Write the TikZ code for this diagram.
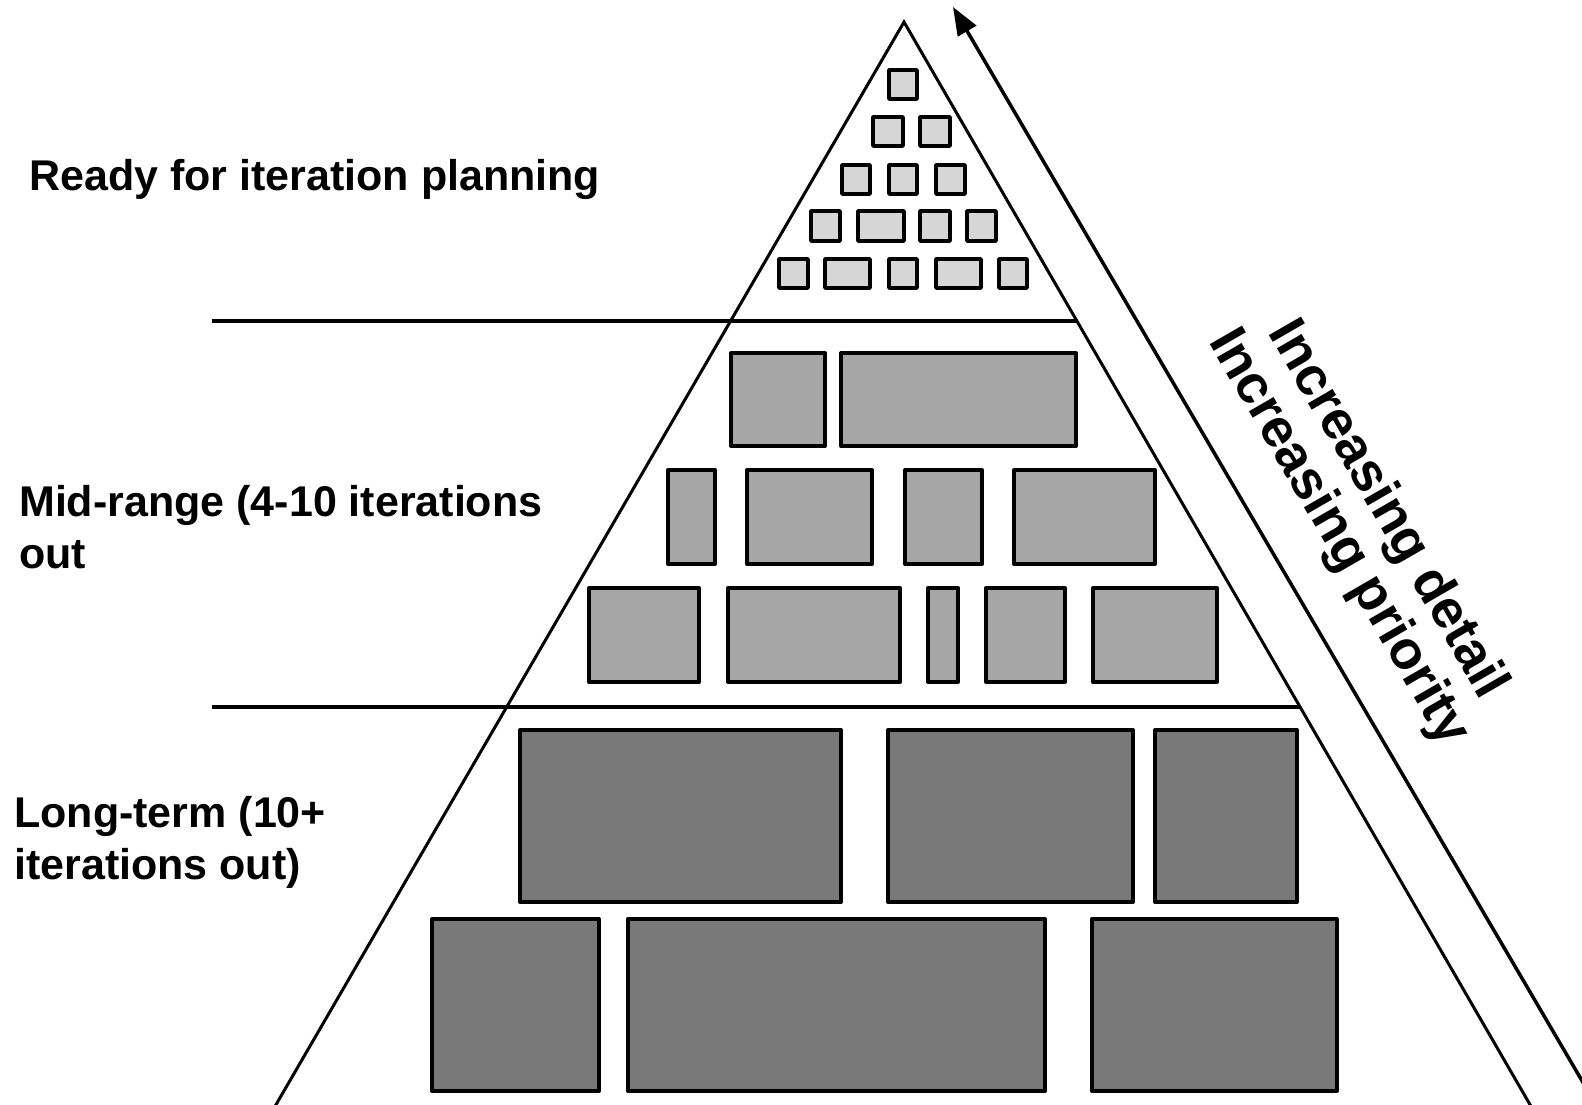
\documentclass[tikz,border=0pt]{standalone}
\usepackage{fontspec}
\setmainfont{Liberation Sans}
\usetikzlibrary{arrows.meta}

\definecolor{lightbrick}{HTML}{D6D6D6}
\definecolor{midbrick}{HTML}{A6A6A6}
\definecolor{darkbrick}{HTML}{797979}

\tikzset{
  edge/.style={line width=3pt, line cap=round},
  band/.style={line width=4pt},
  brick/.style={line width=4pt, draw=black, line join=round},
  small/.style={brick, fill=lightbrick, line width=3.6pt},
  medium/.style={brick, fill=midbrick},
  large/.style={brick, fill=darkbrick},
  % multi-line nodes: the base anchor sits on the last line
  tier/.style={inner sep=0pt, anchor=base west, align=left,
    font=\bfseries\fontsize{43}{52}\selectfont},
  trend/.style={inner sep=0pt, anchor=base, align=center, rotate=-60,
    font=\bfseries\fontsize{54}{56}\selectfont}
}

\begin{document}
\begin{tikzpicture}[x=1pt, y=-1pt]
  \useasboundingbox (0,0) rectangle (1582,1104);
  \clip (0,0) rectangle (1582,1104);

  % pyramid outline and the two tier separators
  \coordinate (apex) at (904,22);
  \coordinate (baseL) at (270,1115);
  \coordinate (baseR) at (1536,1115);
  \draw[edge] (baseL) -- (apex) -- (baseR);
  \coordinate (sep1a) at (212,321);
  \coordinate (sep1b) at (1077,321);
  \coordinate (sep2a) at (212,707);
  \coordinate (sep2b) at (1300,707);
  \draw[band] (sep1a) -- (sep1b);
  \draw[band] (sep2a) -- (sep2b);

  % arrow along the right flank
  \coordinate (arrowStart) at (1605,1120);
  \coordinate (arrowTip) at (953,7);
  \draw[line width=3.5pt, -{Triangle[length=28pt,width=21pt]}] (arrowStart) -- (arrowTip);

  % top tier: small, detailed items
  \draw[small] (889,70) rectangle (917,99);
  \draw[small] (873,117) rectangle (903,146);
  \draw[small] (920,117) rectangle (950,146);
  \draw[small] (842,165) rectangle (870,194);
  \draw[small] (889,165) rectangle (917,194);
  \draw[small] (936,165) rectangle (965,194);
  \draw[small] (811,211) rectangle (840,241);
  \draw[small] (858,211) rectangle (904,241);
  \draw[small] (920,211) rectangle (950,241);
  \draw[small] (967,211) rectangle (996,241);
  \draw[small] (779,259) rectangle (808,288);
  \draw[small] (825,259) rectangle (870,288);
  \draw[small] (889,259) rectangle (917,288);
  \draw[small] (936,259) rectangle (981,288);
  \draw[small] (999,259) rectangle (1027,288);

  % middle tier
  \draw[medium] (731,353) rectangle (825,446);
  \draw[medium] (841,353) rectangle (1076,446);
  \draw[medium] (668,470) rectangle (715,564);
  \draw[medium] (747,470) rectangle (872,564);
  \draw[medium] (905,470) rectangle (982,564);
  \draw[medium] (1014,470) rectangle (1155,564);
  \draw[medium] (589,588) rectangle (699,682);
  \draw[medium] (728,588) rectangle (900,682);
  \draw[medium] (928,588) rectangle (958,682);
  \draw[medium] (986,588) rectangle (1065,682);
  \draw[medium] (1093,588) rectangle (1217,682);

  % bottom tier: large, coarse items
  \draw[large] (520,730) rectangle (841,902);
  \draw[large] (888,730) rectangle (1133,902);
  \draw[large] (1155,730) rectangle (1297,902);
  \draw[large] (432,919) rectangle (599,1091);
  \draw[large] (628,919) rectangle (1045,1091);
  \draw[large] (1092,919) rectangle (1337,1091);

  % tier labels
  \node[tier] (ready) at (29,190) {Ready for iteration planning};
  \node[tier] (mid) at (19,568) {Mid-range (4-10 iterations\\out};
  \node[tier] (long) at (14,879) {Long-term (10+\\iterations out)};

  % labels along the arrow
  \node[trend] (detail) at (1326,545) {Increasing detail\\Increasing priority};
\end{tikzpicture}
\end{document}
